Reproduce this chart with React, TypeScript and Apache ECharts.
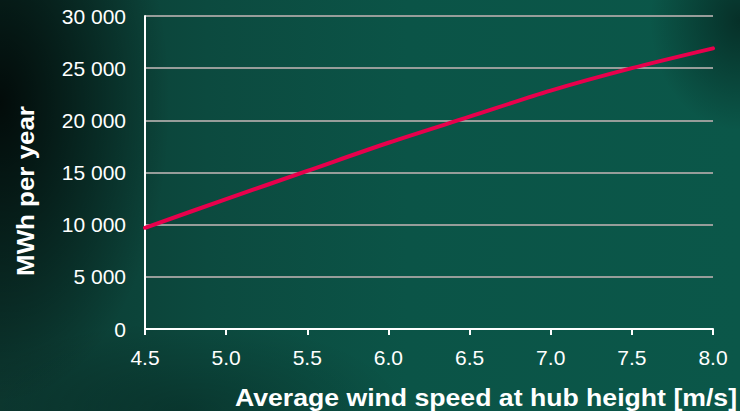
import React, { useEffect, useRef } from "react";
import * as echarts from "echarts";

// Wind speed at hub height (m/s) and annual energy production (MWh)
const windSpeeds = ["4.5", "5.0", "5.5", "6.0", "6.5", "7.0", "7.5", "8.0"];
const speedValues = [4.5, 5.0, 5.5, 6.0, 6.5, 7.0, 7.5, 8.0];
const mwhPerYear = [9700, 12450, 15150, 17850, 20350, 22850, 25000, 26900];

const yTicks = [0, 5000, 10000, 15000, 20000, 25000, 30000];

const xTitle = "Average wind speed at hub height [m/s]";
const yTitle = "MWh per year";

const FONT = "Liberation Sans, Arial, sans-serif";

const fmtThousands = (v: number) =>
  String(v).replace(/\B(?=(\d{3})+(?!\d))/g, " ");

export default function App() {
  const ref = useRef<HTMLDivElement>(null);

  useEffect(() => {
    document.body.style.margin = "0";
    const chart = echarts.init(ref.current!, undefined, { renderer: "svg" });
    chart.setOption({
      animation: false,
      grid: { left: 145, right: 27, top: 16, bottom: 82 },
      graphic: [
        {
          type: "text",
          x: 737,
          y: 397,
          scaleX: 1.11,
          style: {
            text: xTitle,
            fill: "#ffffff",
            font: `bold 24px ${FONT}`,
            align: "right",
            verticalAlign: "middle",
          },
        },
        {
          type: "text",
          x: 25,
          y: 191,
          rotation: Math.PI / 2,
          scaleX: 1.08,
          style: {
            text: yTitle,
            fill: "#ffffff",
            font: `bold 24px ${FONT}`,
            align: "center",
            verticalAlign: "middle",
          },
        },
      ],
      xAxis: {
        type: "value",
        min: 4.5,
        max: 8.0,
        interval: 0.5,
        axisLine: { show: true, lineStyle: { color: "#ffffff", width: 2 } },
        axisTick: { show: true, length: 6, lineStyle: { color: "#ffffff", width: 2 } },
        splitLine: { show: false },
        axisLabel: {
          color: "#ffffff",
          fontFamily: FONT,
          fontSize: 21,
          margin: 18,
          formatter: (v: number) =>
            windSpeeds[speedValues.indexOf(Math.round(v * 10) / 10)] ?? v.toFixed(1),
        },
      },
      yAxis: {
        type: "value",
        min: 0,
        max: yTicks[yTicks.length - 1],
        interval: yTicks[1] - yTicks[0],
        axisLine: { show: true, lineStyle: { color: "#ffffff", width: 2 } },
        axisTick: { show: false },
        splitLine: { show: true, lineStyle: { color: "#979d9a", width: 2 } },
        axisLabel: {
          color: "#ffffff",
          fontFamily: FONT,
          fontSize: 21,
          margin: 19,
          formatter: (v: number) => fmtThousands(v),
        },
      },
      series: [
        {
          type: "line",
          data: speedValues.map((s, i) => [s, mwhPerYear[i]]),
          smooth: 0.3,
          showSymbol: false,
          lineStyle: { color: "#e8004c", width: 4, cap: "round" },
        },
      ],
    });
    return () => chart.dispose();
  }, []);

  return (
    <div
      ref={ref}
      style={{
        position: "absolute",
        left: 0,
        top: 0,
        width: 740,
        height: 411,
        background:
          "radial-gradient(ellipse 170px 300px at 0% 25%, rgba(0,0,0,0.8), rgba(0,0,0,0) 100%)," +
          "radial-gradient(ellipse 220px 90px at 25% 100%, rgba(0,0,0,0.25), rgba(0,0,0,0) 100%)," +
          "radial-gradient(ellipse 90px 110px at 100% 5%, rgba(0,0,0,0.45), rgba(0,0,0,0) 100%)," +
          "linear-gradient(90deg, #0c3830 0%, #0c4a3f 28%, #0b5447 55%, #0b5749 100%)",
      }}
    />
  );
}
